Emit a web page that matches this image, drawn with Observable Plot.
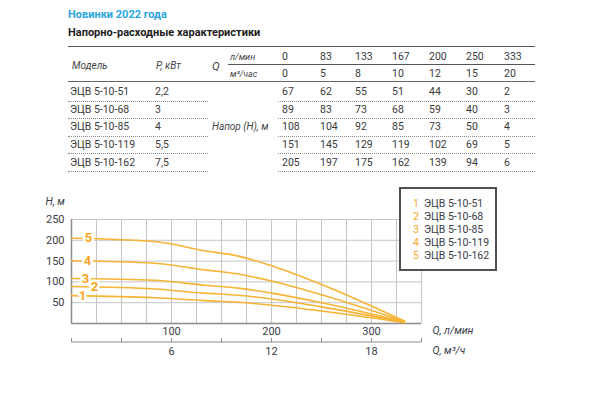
<!DOCTYPE html>
<html>
<head>
<meta charset="utf-8">
<script src="https://cdn.jsdelivr.net/npm/d3@7"></script>
<script src="https://cdn.jsdelivr.net/npm/@observablehq/plot@0.6"></script>
<style>
  html, body { margin: 0; padding: 0; background: #fff; }
  #page { position: relative; width: 600px; height: 394px; overflow: hidden; font-family: Roboto, "Noto Sans", sans-serif; color: #3a3d48; }
  .t { position: absolute; white-space: nowrap; line-height: 12px; height: 12px; }
  .hl { position: absolute; height: 0; }
  #chart { position: absolute; left: 0; top: 180px; }
  #legend { position: absolute; left: 399px; top: 187px; width: 94px; height: 80px; border: 2px solid #505050; background: #fff; font-size: 10.5px; }
  #legend div { position: absolute; left: 12px; line-height: 13px; white-space: nowrap; color: #3a3d48; }
  #legend span { color: #f5a82a; display: inline-block; width: 11px; }
</style>
</head>
<body>
<div id="page"></div>
<script>
// ---- data ----
const titleText = "Новинки 2022 года";
const subtitleText = "Напорно-расходные характеристики";
const qLpm = [0, 83, 133, 167, 200, 250, 333];          // Q, л/мин
const qM3h = [0, 5, 8, 10, 12, 15, 20];                  // Q, м³/час
const models = ["ЭЦВ 5-10-51", "ЭЦВ 5-10-68", "ЭЦВ 5-10-85", "ЭЦВ 5-10-119", "ЭЦВ 5-10-162"];
const powers = ["2,2", "3", "4", "5,5", "7,5"];
const head51  = [67, 62, 55, 51, 44, 30, 2];
const head68  = [89, 83, 73, 68, 59, 40, 3];
const head85  = [108, 104, 92, 85, 73, 50, 4];
const head119 = [151, 145, 129, 119, 102, 69, 5];
const head162 = [205, 197, 175, 162, 139, 94, 6];
const heads = [head51, head68, head85, head119, head162];
const curveLabelQ = [11, 23, 14, 16, 17];                // where the 1..5 labels sit on each curve
const yTicks = [50, 100, 150, 200, 250];
const xTicks = [100, 200, 300];
const m3hTickLabels = [6, 12, 18];
const m3hMinorTicks = [0, 3, 6, 9, 12, 15, 18, 21];

const ORANGE = "#f7b334";
const LABEL_ORANGE = "#f5a623";
const TEXT = "#3a3d48";

// ---- header & table (HTML) ----
const page = document.getElementById("page");
function put(text, x, cy, style = {}) {
  const d = document.createElement("div");
  d.className = "t";
  d.textContent = text;
  d.style.left = x + "px";
  d.style.top = (cy - 6) + "px";
  Object.assign(d.style, style);
  page.appendChild(d);
  return d;
}
function hline(x1, x2, y, border) {
  const d = document.createElement("div");
  d.className = "hl";
  d.style.left = x1 + "px";
  d.style.width = (x2 - x1) + "px";
  d.style.top = y + "px";
  d.style.borderTop = border;
  page.appendChild(d);
}
put(titleText, 68, 15, {fontSize: "11px", fontWeight: "bold", color: "#2aa6df"});
put(subtitleText, 68, 33, {fontSize: "11px", fontWeight: "bold", color: "#1c1c1c"});

hline(68, 535, 46, "1.5px solid #555");
const hdr = {fontSize: "10px", fontStyle: "italic", color: "#444"};
put("Модель", 72, 66, hdr);
put("P, кВт", 156, 66, hdr);
put("Q", 212, 66, {fontSize: "11.5px", fontStyle: "italic", color: "#444"});
put("л/мин", 230, 57, {fontSize: "9px", fontStyle: "italic", color: "#444"});
put("м³/час", 230, 74, {fontSize: "9px", fontStyle: "italic", color: "#444"});
hline(228, 535, 64, "1px solid #555");
const colX = [282, 320, 355, 392, 429, 466, 504];
const cell = {fontSize: "10.5px", color: "#3a3a3a"};
qLpm.forEach((v, j) => put(String(v), colX[j], 57, cell));
qM3h.forEach((v, j) => put(String(v), colX[j], 74, cell));
hline(68, 535, 81, "1.5px solid #666");
const rowY = [92, 109.5, 127, 144.5, 162.5];
models.forEach((m, i) => {
  put(m, 70, rowY[i], cell);
  put(powers[i], 155, rowY[i], cell);
  heads[i].forEach((v, j) => put(String(v), colX[j], rowY[i], cell));
  hline(68, 208, rowY[i] + 8.5, "1px dotted #8a8a8a");
  hline(278, 535, rowY[i] + 8.5, "1px dotted #8a8a8a");
});
put("Напор (Н), м", 212, rowY[2], {fontSize: "10px", fontStyle: "italic", color: "#444"});

// ---- chart ----
const rows = models.flatMap((m, i) => qLpm.map((q, j) => ({model: m, q, h: heads[i][j]})));
const labels = models.map((m, i) => ({n: String(i + 1), q: curveLabelQ[i], h: heads[i][0]}));

const chart = Plot.plot({
  width: 600,
  height: 214,
  marginLeft: 71,
  marginRight: 179,
  marginTop: 39,
  marginBottom: 71,
  x: {domain: [0, 350], label: null},
  y: {domain: [0, 250], label: null},
  style: {fontFamily: "Roboto, sans-serif", fontSize: "11px", color: TEXT, background: "transparent", overflow: "visible"},
  marks: [
    Plot.gridX({ticks: d3.range(25, 351, 25), stroke: "#c6c6c6", strokeOpacity: 1}),
    Plot.gridY({ticks: yTicks, stroke: "#c6c6c6", strokeOpacity: 1}),
    Plot.ruleX([0], {stroke: "#8c8c8c", strokeWidth: 1.5}),
    Plot.ruleY([0], {stroke: "#8c8c8c", strokeWidth: 1.5}),
    Plot.axisY({ticks: yTicks, tickSize: 0, tickPadding: 7, fontSize: 11, label: null}),
    Plot.axisX({ticks: xTicks, tickSize: 0, tickPadding: 4, fontSize: 11, label: null}),
    Plot.axisX({ticks: m3hMinorTicks.map(v => v / 0.06), tickSize: 4, dy: 15, stroke: "#8c8c8c", tickFormat: () => "", label: null}),
    Plot.ruleY([0], {dy: 18.5, stroke: "#8c8c8c", strokeWidth: 1.2}),
    Plot.axisX({ticks: m3hTickLabels.map(v => v / 0.06), tickFormat: d => String(Math.round(d * 0.06)), tickSize: 0, dy: 20, tickPadding: 4, fontSize: 11, label: null}),
    Plot.line(rows, {x: "q", y: "h", z: "model", stroke: ORANGE, strokeWidth: 1.6, curve: "monotone-x"}),
    Plot.text(labels, {x: "q", y: "h", text: "n", fill: LABEL_ORANGE, stroke: "white", strokeWidth: 5, fontWeight: "bold", fontSize: 13}),
    Plot.text(["H, м"], {frameAnchor: "top-left", dx: -26, dy: -22, textAnchor: "start", fontStyle: "italic", fontSize: 10.5}),
    Plot.text(["Q, л/мин"], {frameAnchor: "bottom-right", dx: 11, dy: 10, textAnchor: "start", fontStyle: "italic", fontSize: 10.5}),
    Plot.text(["Q, м³/ч"], {frameAnchor: "bottom-right", dx: 11, dy: 30, textAnchor: "start", fontStyle: "italic", fontSize: 10.5})
  ]
});
chart.id = "chart";
page.appendChild(chart);

// ---- legend (HTML) ----
const legend = document.createElement("div");
legend.id = "legend";
models.forEach((m, i) => {
  const it = document.createElement("div");
  it.style.top = (8 + i * 13) + "px";
  const s = document.createElement("span");
  s.textContent = String(i + 1);
  it.appendChild(s);
  it.appendChild(document.createTextNode(m));
  legend.appendChild(it);
});
page.appendChild(legend);
</script>
</body>
</html>
